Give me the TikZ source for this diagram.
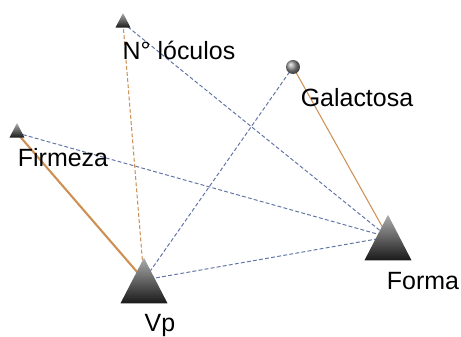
\documentclass[tikz,border=0pt]{standalone}
\usepackage{fontspec}
\setmainfont{Liberation Sans}
\usetikzlibrary{shapes.geometric, positioning, backgrounds}

\definecolor{linkorange}{RGB}{205,145,85}
\definecolor{linkblue}{RGB}{95,115,165}

\begin{document}
\begin{tikzpicture}[
  x=0.02cm, y=-0.02cm,
  bigtri/.style = {isosceles triangle, shape border rotate=90, isosceles triangle apex angle=54,
                   isosceles triangle stretches, minimum width=0.94cm, minimum height=0.91cm,
                   inner sep=0pt, draw=none, top color=gray!65, bottom color=black!90},
  smalltri/.style = {bigtri, minimum width=0.3cm, minimum height=0.29cm},
  ball/.style = {circle, minimum size=0.28cm, inner sep=0pt, ball color=gray!85},
  lbl/.style = {font=\fontsize{14.2}{17}\selectfont, inner sep=0pt, anchor=base},
  poslink/.style = {linkorange, line width=0.6pt},
  neglink/.style = {linkblue, line width=0.55pt, dash pattern=on 2.2pt off 1.3pt}
]
\useasboundingbox (0,0) rectangle (461,337);

% Variables
\node[smalltri] (loc) at (123,23) {};
\node[smalltri] (firm) at (17,133) {};
\node[ball] (gal) at (293,67) {};
\node[bigtri] (forma) at (388,246) {};
\node[bigtri] (vp) at (144,289) {};

% Labels
\node[lbl] at (179,60) {N° lóculos};
\node[lbl] at (63,167) {Firmeza};
\node[lbl] at (357,107) {Galactosa};
\node[lbl] at (423,290) {Forma};
\node[lbl] at (160,332) {Vp};

% Links
\begin{scope}[on background layer]
  \draw[poslink, line width=1.2pt] (firm.center) -- ([yshift=0.18cm]vp.center);
  \draw[poslink, dash pattern=on 2.2pt off 1.3pt] (loc.center) -- ([yshift=0.18cm]vp.center);
  \draw[poslink] (gal.center) -- ([yshift=0.18cm]forma.center);
  \draw[neglink] (loc.center) -- ([yshift=0.18cm]forma.center);
  \draw[neglink] (firm.center) -- ([yshift=0.18cm]forma.center);
  \draw[neglink] (gal.center) -- ([yshift=0.18cm]vp.center);
  \draw[neglink] ([yshift=0.18cm]vp.center) -- ([yshift=0.18cm]forma.center);
\end{scope}
\end{tikzpicture}
\end{document}
